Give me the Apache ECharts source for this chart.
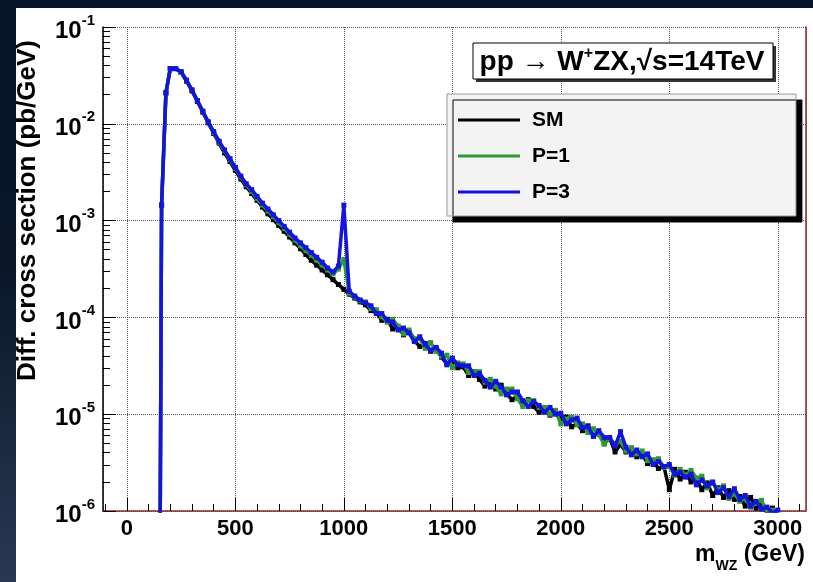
<!DOCTYPE html>
<html>
<head>
<meta charset="utf-8">
<script src="https://cdn.jsdelivr.net/npm/echarts@6/dist/echarts.min.js"></script>
<style>
  html, body { margin: 0; padding: 0; }
  body {
    width: 813px; height: 582px; position: relative; overflow: hidden;
    background: linear-gradient(180deg, #06152a 0%, #0a1628 45%, #2a3853 100%);
  }
  #panel { position: absolute; left: 16px; top: 8px; right: 0; bottom: 0; background: #fff; }
  #chart { position: absolute; left: 0; top: 0; width: 813px; height: 582px; }
</style>
</head>
<body>
<div id="panel"></div>
<div id="chart"></div>
<script>
const FONT = '"Liberation Sans", Arial, sans-serif';

// bin centres, GeV
const massGeV = [150, 160, 180, 200,
  225, 250, 275, 300, 325, 350, 375, 400, 425, 450, 475, 500, 525, 550, 575, 600,
  625, 650, 675, 700, 725, 750, 775, 800, 825, 850, 875, 900, 925, 950, 975, 1000,
  1025, 1050, 1075, 1100, 1125, 1150, 1175, 1200, 1225, 1250, 1275, 1300, 1325, 1350,
  1375, 1400, 1425, 1450, 1475, 1500, 1525, 1550, 1575, 1600, 1625, 1650, 1675, 1700,
  1725, 1750, 1775, 1800, 1825, 1850, 1875, 1900, 1925, 1950, 1975, 2000, 2025, 2050,
  2075, 2100, 2125, 2150, 2175, 2200, 2225, 2250, 2275, 2300, 2325, 2350, 2375, 2400,
  2425, 2450, 2475, 2500, 2525, 2550, 2575, 2600, 2625, 2650, 2675, 2700, 2725, 2750,
  2775, 2800, 2825, 2850, 2875, 2900, 2925, 2950, 2975, 3000];

// log10 of dsigma/dm (pb/GeV)
const smExp = [-8, -2.84, -1.68, -1.43,
  -1.43, -1.47, -1.56, -1.66, -1.77, -1.88, -1.99, -2.10, -2.20, -2.30, -2.39, -2.48, -2.57, -2.65, -2.72, -2.79,
  -2.86, -2.93, -2.99, -3.05, -3.11, -3.17, -3.23, -3.29, -3.35, -3.41, -3.46, -3.51, -3.56, -3.61, -3.66, -3.71,
  -3.76, -3.80, -3.84, -3.87, -3.93, -3.95, -4.03, -4.02, -4.12, -4.10, -4.18, -4.15, -4.24, -4.30,
  -4.27, -4.35, -4.32, -4.41, -4.48, -4.45, -4.52, -4.51, -4.60, -4.56, -4.64, -4.71, -4.67, -4.74,
  -4.70, -4.79, -4.85, -4.81, -4.90, -4.85, -4.92, -4.98, -4.94, -5.01, -4.97, -5.05, -5.03, -5.13,
  -5.10, -5.17, -5.12, -5.22, -5.20, -5.30, -5.25, -5.39, -5.31, -5.39, -5.35, -5.44, -5.41, -5.51,
  -5.48, -5.56, -5.54, -5.78, -5.57, -5.67, -5.60, -5.70, -5.67, -5.78, -5.71, -5.84, -5.76, -5.86,
  -5.79, -5.88, -5.85, -5.95, -5.86, -5.97, -5.92, -6.02, -5.97, -6.05];

const p1Exp = [-8, -2.84, -1.68, -1.43,
  -1.43, -1.47, -1.55, -1.65, -1.76, -1.87, -1.98, -2.09, -2.19, -2.28, -2.37, -2.46, -2.55, -2.63, -2.70, -2.77,
  -2.84, -2.90, -2.96, -3.02, -3.08, -3.14, -3.20, -3.26, -3.31, -3.36, -3.41, -3.46, -3.51, -3.55, -3.50, -3.40,
  -3.75, -3.79, -3.83, -3.84, -3.91, -3.92, -3.99, -4.05, -4.02, -4.09, -4.17, -4.13, -4.22, -4.22,
  -4.32, -4.26, -4.35, -4.40, -4.39, -4.52, -4.47, -4.48, -4.57, -4.56, -4.56, -4.67, -4.64, -4.71,
  -4.79, -4.74, -4.74, -4.84, -4.92, -4.86, -4.86, -4.93, -4.93, -5.00, -4.96, -5.10, -5.05, -5.03,
  -5.11, -5.10, -5.19, -5.15, -5.21, -5.31, -5.25, -5.31, -5.28, -5.38, -5.35, -5.41, -5.38, -5.48,
  -5.47, -5.46, -5.55, -5.54, -5.63, -5.57, -5.63, -5.58, -5.66, -5.64, -5.76, -5.71, -5.78, -5.74,
  -5.87, -5.82, -5.90, -5.87, -5.96, -5.92, -5.89, -6.01, -5.99, -6.04];

const p3Exp = [-8, -2.84, -1.68, -1.43,
  -1.43, -1.46, -1.55, -1.65, -1.76, -1.87, -1.98, -2.08, -2.18, -2.27, -2.36, -2.45, -2.54, -2.62, -2.68, -2.75,
  -2.82, -2.88, -2.94, -3.00, -3.06, -3.12, -3.18, -3.23, -3.28, -3.33, -3.38, -3.43, -3.49, -3.53, -3.47, -2.84,
  -3.73, -3.78, -3.82, -3.85, -3.88, -3.96, -3.96, -4.03, -4.05, -4.13, -4.11, -4.16, -4.25, -4.20,
  -4.28, -4.34, -4.31, -4.37, -4.49, -4.42, -4.49, -4.50, -4.50, -4.60, -4.58, -4.65, -4.72, -4.66,
  -4.72, -4.80, -4.77, -4.77, -4.86, -4.92, -4.87, -4.91, -4.98, -4.93, -5.00, -4.99, -5.10, -5.06,
  -5.04, -5.14, -5.13, -5.23, -5.17, -5.24, -5.24, -5.33, -5.18, -5.34, -5.42, -5.37, -5.44, -5.41,
  -5.52, -5.49, -5.54, -5.52, -5.62, -5.60, -5.65, -5.62, -5.73, -5.68, -5.74, -5.70, -5.81, -5.76,
  -5.85, -5.77, -5.88, -5.84, -5.95, -5.90, -5.98, -5.96, -6.02, -5.99];

const seriesNames = ['SM', 'P=1', 'P=3'];
const seriesColors = ['#000000', '#2f9a2f', '#1414e0'];
const seriesExps = [smExp, p1Exp, p3Exp];

// minor tick positions (axis decoration only)
const xMinorTicks = [];
for (let v = -100; v <= 3100; v += 100) if (v % 500 !== 0) xMinorTicks.push(v);
const yMinorTicks = [];
for (let e = -6; e < -1; e++) for (let k = 2; k <= 9; k++) yMinorTicks.push(k * Math.pow(10, e));

const chart = echarts.init(document.getElementById('chart'), null, { renderer: 'canvas' });

const lab = { fontFamily: FONT, fontWeight: 'bold', color: '#000' };
const FRAME = '#8c2a2a';

chart.setOption({
  animation: false,
  textStyle: { fontFamily: FONT },
  grid: { left: 103, right: 7, top: 27, bottom: 71 },
  legend: {
    left: 447, top: 94,
    orient: 'vertical',
    data: seriesNames,
    icon: 'rect',
    itemWidth: 62, itemHeight: 3, itemGap: 14,
    padding: [15, 226, 13, 11],
    backgroundColor: '#f3f3f3',
    borderColor: '#9a9a9a', borderWidth: 1,
    shadowColor: '#000', shadowBlur: 0, shadowOffsetX: 6, shadowOffsetY: 6,
    textStyle: Object.assign({ fontSize: 21, lineHeight: 22, padding: [0, 0, 0, 7] }, lab)
  },
  xAxis: [{
    type: 'value', min: -110, max: 3130, splitNumber: 6, position: 'bottom',
    axisLine: { show: true, onZero: false, lineStyle: { color: FRAME, width: 1.5 } },
    axisTick: { show: true, inside: true, length: 13, lineStyle: { color: '#000' } },
    axisLabel: Object.assign({ showMinLabel: false, showMaxLabel: false, fontSize: 22, margin: 7,
      formatter: v => String(v) }, lab),
    splitLine: { show: true, lineStyle: { type: 'dotted', color: '#555', width: 1 } }
  }, {
    type: 'value', min: -110, max: 3130, position: 'bottom',
    axisLine: { show: false, onZero: false }, axisLabel: { show: false }, splitLine: { show: false },
    axisTick: { show: true, inside: true, length: 7, customValues: xMinorTicks, lineStyle: { color: '#000' } }
  }],
  yAxis: [{
    type: 'log', logBase: 10, min: 1e-6, max: 1e-1, position: 'left',
    axisLine: { show: true, onZero: false, lineStyle: { color: '#000', width: 1.5 } },
    axisTick: { show: true, inside: true, length: 13, lineStyle: { color: '#000' } },
    axisLabel: {
      margin: 8,
      formatter: v => '{b|10}{s|' + Math.round(Math.log10(v)) + '}',
      rich: {
        b: Object.assign({ fontSize: 24, lineHeight: 28, padding: [9, 0, 0, 0] }, lab),
        s: Object.assign({ fontSize: 15, verticalAlign: 'top', lineHeight: 16 }, lab)
      }
    },
    splitLine: { show: true, lineStyle: { type: 'dotted', color: '#555', width: 1 } }
  }, {
    type: 'log', logBase: 10, min: 1e-6, max: 1e-1, position: 'left',
    axisLine: { show: false, onZero: false }, axisLabel: { show: false }, splitLine: { show: false },
    axisTick: { show: true, inside: true, length: 7, customValues: yMinorTicks, lineStyle: { color: '#000' } }
  }, {
    type: 'log', logBase: 10, min: 1e-6, max: 1e-1, position: 'right',
    axisLine: { show: true, onZero: false, lineStyle: { color: FRAME, width: 1.5 } },
    axisTick: { show: false }, axisLabel: { show: false }, splitLine: { show: false }
  }],
  series: seriesNames.map((name, i) => ({
    name: name,
    type: 'line',
    xAxisIndex: 0, yAxisIndex: 0,
    data: massGeV.map((m, j) => [m, Math.pow(10, seriesExps[i][j])]),
    symbol: 'rect', symbolSize: 5, showAllSymbol: true,
    color: seriesColors[i],
    lineStyle: { width: 3.5, color: seriesColors[i] },
    itemStyle: { color: seriesColors[i] },
    z: 2 + i
  })),
  graphic: [
    { type: 'rect', z: 10, shape: { x: 476, y: 46, width: 300, height: 36 }, style: { fill: '#333' } },
    { type: 'rect', z: 11, shape: { x: 473, y: 43, width: 300, height: 36 }, style: { fill: '#fff', stroke: '#000', lineWidth: 1 } },
    { type: 'text', z: 12, x: 622, y: 62, style: {
        text: '{n|pp \u2192 W}{u|+}{n|ZX,\u221As=14TeV}',
        align: 'center', verticalAlign: 'middle',
        rich: {
          n: Object.assign({ fontSize: 28, lineHeight: 32 }, lab),
          u: Object.assign({ fontSize: 16, lineHeight: 16, verticalAlign: 'top' }, lab)
        }
      } },
    { type: 'text', z: 12, x: 28, y: 40, rotation: Math.PI / 2, style: {
        text: 'Diff. cross section (pb/GeV)', align: 'right', verticalAlign: 'middle',
        font: 'bold 26px ' + FONT, fill: '#000'
      } },
    { type: 'text', z: 12, x: 805, y: 555, style: {
        text: '{n|m}{d|WZ}{n| (GeV)}', align: 'right', verticalAlign: 'middle',
        rich: {
          n: Object.assign({ fontSize: 23, lineHeight: 26 }, lab),
          d: Object.assign({ fontSize: 14, lineHeight: 14, verticalAlign: 'bottom', padding: [0, 0, -5, 0] }, lab)
        }
      } }
  ]
});
</script>
</body>
</html>
